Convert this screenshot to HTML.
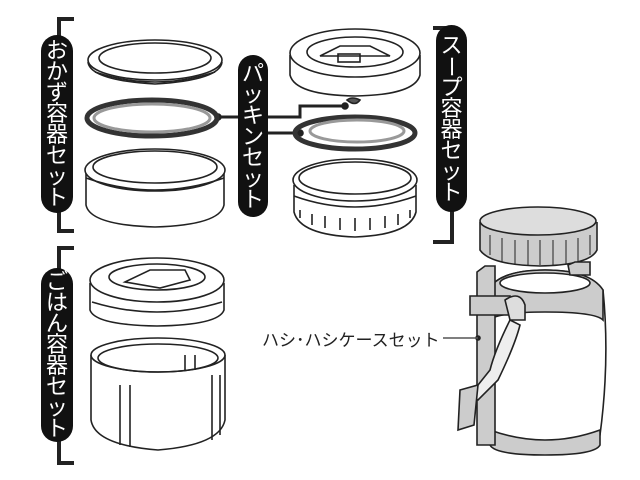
<!DOCTYPE html>
<html><head><meta charset="utf-8"><style>
html,body{margin:0;padding:0;background:#fff;}
body{width:640px;height:480px;overflow:hidden;position:relative;font-family:"Liberation Sans","Noto Sans CJK JP",sans-serif;}
.pill{position:absolute;background:#111;border-radius:16px;color:#fff;display:flex;flex-direction:column;align-items:center;justify-content:center;font-weight:normal;font-size:22px;line-height:21px;}
.pill span{display:block;height:21px;}
.r{transform:rotate(90deg);}
.lbl{position:absolute;left:262px;top:326px;font-size:17px;color:#222;}
svg{position:absolute;left:0;top:0;}
</style></head><body>
<svg width="640" height="480" viewBox="0 0 640 480" fill="none" stroke="#222" stroke-width="1.6">
<path d="M74 19 H59 V231 H74" stroke="#222" stroke-width="4"/>
<path d="M74 248 H59 V463 H74" stroke="#222" stroke-width="4"/>
<path d="M433 28 H452 V242 H433" stroke="#222" stroke-width="4"/>
<path d="M218 117 H300 V106 H345" stroke-width="3"/>
<path d="M268 133 H300" stroke-width="3"/>
<circle cx="218" cy="117" r="3" fill="#222"/><circle cx="345" cy="106" r="3" fill="#222"/><circle cx="300" cy="133" r="3" fill="#222"/>
<ellipse cx="155" cy="60" rx="67" ry="20" fill="#fff"/>
<path d="M88 62 Q90 80 155 84 Q220 80 222 62"/>
<ellipse cx="155" cy="58" rx="56" ry="15"/>
<path d="M95 72 Q155 92 215 72"/>
<ellipse cx="152" cy="118" rx="65" ry="18" stroke-width="5" stroke="#333"/>
<ellipse cx="152" cy="118" rx="58" ry="14" stroke="#999" stroke-width="3"/>
<path d="M86 172 V205 Q90 225 155 227 Q220 225 224 205 V172" fill="#fff"/>
<ellipse cx="155" cy="170" rx="70" ry="21" fill="#fff"/>
<ellipse cx="155" cy="167" rx="62" ry="16"/>
<path d="M86 178 Q155 202 224 178"/>
<path d="M290 55 V75 Q295 95 355 96 Q415 95 420 75 V55" fill="#fff"/>
<ellipse cx="355" cy="53" rx="65" ry="24" fill="#fff"/>
<ellipse cx="355" cy="52" rx="48" ry="15"/>
<path d="M320 56 L340 46 H370 L390 56 Z"/>
<rect x="338" y="54" width="22" height="8"/>
<path d="M347 100 Q352 96 360 100 Q355 107 347 100Z" fill="#555"/>
<ellipse cx="355" cy="133" rx="60" ry="16" stroke-width="5" stroke="#333"/>
<ellipse cx="357" cy="131" rx="47" ry="11" stroke="#999" stroke-width="3"/>
<path d="M294 185 V212 Q300 235 355 237 Q410 235 416 212 V185" fill="#fff"/>
<ellipse cx="355" cy="180" rx="62" ry="21" fill="#fff"/>
<ellipse cx="355" cy="178" rx="56" ry="16"/>
<path d="M294 196 Q355 218 416 196"/>
<path d="M300 210 V218 M312 214 V225 M325 216 V228 M340 218 V230 M355 218 V231 M370 218 V230 M385 216 V228 M398 214 V225 M410 210 V218"/>
<path d="M90 283 V310 Q95 325 157 326 Q219 325 224 310 V283" fill="#fff"/>
<ellipse cx="157" cy="280" rx="67" ry="22" fill="#fff"/>
<ellipse cx="157" cy="277" rx="48" ry="13"/>
<path d="M125 282 L150 270 H185 L190 280 L160 288 Z"/>
<path d="M92 302 Q157 322 222 302"/>
<path d="M91 355 V420 Q95 445 158 450 Q220 445 225 420 V355" fill="#fff"/>
<ellipse cx="158" cy="355" rx="67" ry="17" fill="#fff"/>
<ellipse cx="158" cy="358" rx="60" ry="14"/>
<path d="M120 385 V445 M130 385 V447 M212 375 V440 M220 375 V435 M185 355 V370 M195 355 V370"/>
<path d="M480 222 V250 Q490 265 540 266 Q590 265 597 250 V222" fill="#ccc"/>
<ellipse cx="538" cy="221" rx="58" ry="14" fill="#ddd"/>
<path d="M490 235 V255 M502 238 V262 M515 240 V264 M528 240 V265 M540 240 V265 M553 240 V265 M566 240 V264 M578 238 V262 M590 235 V255" stroke-width="1"/>
<path d="M488 290 Q484 360 490 435 Q495 450 545 452 Q595 450 600 435 Q610 360 603 290 Q590 270 545 270 Q500 270 488 290Z" fill="#fff"/>
<path d="M488 290 Q500 270 545 270 Q590 270 603 290 V320 Q595 312 545 312 Q500 312 488 320Z" fill="#ccc"/>
<ellipse cx="545" cy="283" rx="45" ry="10" fill="#fff"/>
<path d="M490 430 Q545 450 600 430 V445 Q595 455 545 455 Q495 455 490 445Z" fill="#ccc"/>
<path d="M568 265 L575 262 H590 V275 L570 275Z" fill="#ccc"/>
<path d="M477 272 L485 266 H495 V445 H477Z" fill="#ccc"/>
<path d="M470 296 H510 V315 H470Z" fill="#ccc"/>
<path d="M505 300 Q520 290 525 305 V320 L510 320Z" fill="#ddd"/>
<path d="M510 320 Q495 350 490 370 L470 395 L478 400 L498 380 Q515 345 520 325Z" fill="#eee"/>
<path d="M460 390 L478 385 L474 425 L458 430Z" fill="#ccc"/>
<circle cx="478" cy="338" r="2" fill="#222"/>
<path d="M443 338 H478" stroke="#555"/>
</svg>
<div class="pill" style="left:41px;top:35px;width:32px;height:178px;"><span>お</span><span>か</span><span>ず</span><span>容</span><span>器</span><span>セ</span><span>ッ</span><span>ト</span></div>
<div class="pill" style="left:238px;top:55px;width:30px;height:162px;"><span>パ</span><span>ッ</span><span>キ</span><span>ン</span><span>セ</span><span>ッ</span><span>ト</span></div>
<div class="pill" style="left:436px;top:25px;width:31px;height:187px;"><span>ス</span><span class="r">ー</span><span>プ</span><span>容</span><span>器</span><span>セ</span><span>ッ</span><span>ト</span></div>
<div class="pill" style="left:41px;top:268px;width:32px;height:174px;"><span>ご</span><span>は</span><span>ん</span><span>容</span><span>器</span><span>セ</span><span>ッ</span><span>ト</span></div>
<div class="lbl">ハシ･ハシケースセット</div>
</body></html>
